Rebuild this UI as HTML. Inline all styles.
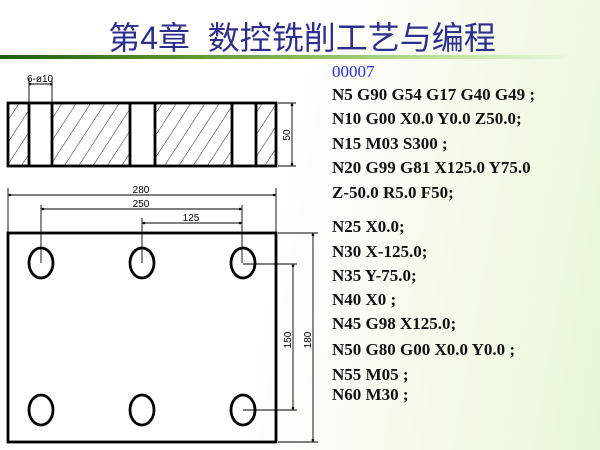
<!DOCTYPE html>
<html><head><meta charset="utf-8"><style>
html,body{margin:0;padding:0;}
body{width:600px;height:450px;overflow:hidden;position:relative;background:linear-gradient(100deg,#ffffff 0%,#ffffff 45%,#f6fbee 70%,#e8f6d6 100%);}
.t{position:absolute;left:2px;top:13px;width:600px;text-align:center;font-family:"Liberation Sans","Noto Sans CJK SC",sans-serif;font-size:32px;color:#2e2e8c;}
.bar{position:absolute;left:0;top:55px;width:565px;height:4px;background:linear-gradient(90deg,#1f5a10 0%,#5f9a38 35%,#b8de90 75%,#eaf7dc 100%);}
.code{position:absolute;left:332px;font-family:"Liberation Serif",serif;font-weight:bold;font-size:17px;color:#111;white-space:pre;line-height:1;}
</style></head><body>
<div class="t">第4章&nbsp; 数控铣削工艺与编程</div>
<div class="bar"></div>
<svg width="600" height="450" style="position:absolute;left:0;top:0" xmlns="http://www.w3.org/2000/svg">
<defs>
<pattern id="h" patternUnits="userSpaceOnUse" width="12" height="12" patternTransform="rotate(33)">
<line x1="0" y1="0" x2="0" y2="12" stroke="#222" stroke-width="1"/>
</pattern>
</defs>
<g fill="url(#h)">
<rect x="8" y="103" width="21" height="63"/>
<rect x="52" y="103" width="78" height="63"/>
<rect x="155" y="103" width="77" height="63"/>
<rect x="256" y="103" width="20" height="63"/>
</g>
<g stroke="#000" stroke-width="2.8" fill="none">
<rect x="8" y="103" width="268" height="63"/>
<line x1="29" y1="103" x2="29" y2="166"/><line x1="52" y1="103" x2="52" y2="166"/>
<line x1="130" y1="103" x2="130" y2="166"/><line x1="155" y1="103" x2="155" y2="166"/>
<line x1="232" y1="103" x2="232" y2="166"/><line x1="256" y1="103" x2="256" y2="166"/>
<rect x="8" y="233" width="268" height="209"/>
<ellipse cx="41" cy="263" rx="12" ry="15"/><ellipse cx="142" cy="263" rx="12" ry="15"/><ellipse cx="243" cy="263" rx="12" ry="15"/>
<ellipse cx="41" cy="410" rx="12" ry="15"/><ellipse cx="142" cy="410" rx="12" ry="15"/><ellipse cx="243" cy="410" rx="12" ry="15"/>
</g>
<g stroke="#000" stroke-width="0.9" fill="none">
<line x1="29" y1="78" x2="29" y2="103"/><line x1="52" y1="78" x2="52" y2="103"/><line x1="29" y1="84" x2="52" y2="84"/>
<line x1="278" y1="103" x2="296" y2="103"/><line x1="278" y1="166" x2="296" y2="166"/><line x1="292" y1="103" x2="292" y2="166"/>
<line x1="8" y1="188" x2="8" y2="233"/><line x1="276" y1="188" x2="276" y2="233"/><line x1="8" y1="195" x2="276" y2="195"/>
<line x1="41" y1="205" x2="41" y2="263"/><line x1="242" y1="205" x2="242" y2="263"/><line x1="41" y1="209" x2="242" y2="209"/>
<line x1="142" y1="218" x2="142" y2="263"/><line x1="142" y1="223" x2="242" y2="223"/>
<line x1="243" y1="264" x2="297" y2="264"/><line x1="243" y1="410" x2="297" y2="410"/><line x1="293" y1="264" x2="293" y2="410"/>
<line x1="278" y1="233" x2="318" y2="233"/><line x1="278" y1="442" x2="318" y2="442"/><line x1="313" y1="233" x2="313" y2="442"/>
</g>
<g fill="#000">
<circle cx="30" cy="84" r="1.3"/><circle cx="51" cy="84" r="1.3"/>
<circle cx="292" cy="105" r="1.3"/><circle cx="292" cy="164" r="1.3"/>
<circle cx="10" cy="195" r="1.3"/><circle cx="274" cy="195" r="1.3"/>
<circle cx="43" cy="209" r="1.3"/><circle cx="240" cy="209" r="1.3"/>
<circle cx="144" cy="223" r="1.3"/><circle cx="240" cy="223" r="1.3"/>
<circle cx="293" cy="266" r="1.3"/><circle cx="293" cy="408" r="1.3"/>
<circle cx="313" cy="235" r="1.3"/><circle cx="313" cy="440" r="1.3"/>
</g>
<g font-family="Liberation Sans Narrow, Liberation Sans, sans-serif" font-size="10" fill="#000" text-anchor="middle">
<text x="40" y="82">6-ø10</text>
<text x="141" y="193">280</text>
<text x="141" y="207">250</text>
<text x="191" y="221">125</text>
<text transform="translate(290,135) rotate(-90)">50</text>
<text transform="translate(291,340) rotate(-90)">150</text>
<text transform="translate(311,340) rotate(-90)">180</text>
</g>
</svg>
<div class="code" style="top:63px;font-weight:normal;color:#2a2adc;">00007</div>
<div class="code" style="top:86px">N5 G90 G54 G17 G40 G49 ;</div>
<div class="code" style="top:110px">N10 G00 X0.0 Y0.0 Z50.0;</div>
<div class="code" style="top:135px">N15 M03 S300 ;</div>
<div class="code" style="top:159px">N20 G99 G81 X125.0 Y75.0</div>
<div class="code" style="top:184px">Z-50.0 R5.0 F50;</div>
<div class="code" style="top:218px">N25 X0.0;</div>
<div class="code" style="top:243px">N30 X-125.0;</div>
<div class="code" style="top:267px">N35 Y-75.0;</div>
<div class="code" style="top:291px">N40 X0 ;</div>
<div class="code" style="top:315px">N45 G98 X125.0;</div>
<div class="code" style="top:341px">N50 G80 G00 X0.0 Y0.0 ;</div>
<div class="code" style="top:366px">N55 M05 ;</div>
<div class="code" style="top:386px">N60 M30 ;</div>
</body></html>
